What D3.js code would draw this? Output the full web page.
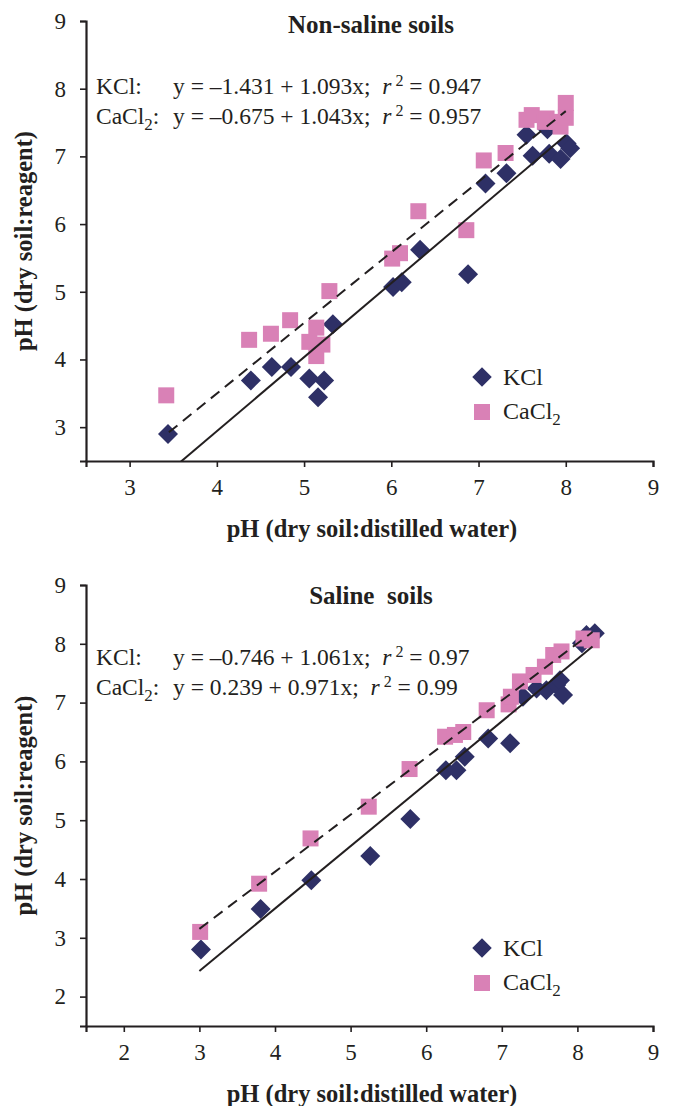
<!DOCTYPE html>
<html>
<head>
<meta charset="utf-8">
<script src="https://cdn.jsdelivr.net/npm/d3@7"></script>
<style>
  body { margin: 0; background: #fff; }
  text { font-family: "Liberation Serif", serif; fill: #231f20; }
</style>
</head>
<body>
<div id="chart"></div>
<script>
// non-saline soils, [pH water, pH reagent]
let nonSalineKCl = [
  [3.44, 2.90], [4.39, 3.69], [4.63, 3.89], [4.85, 3.89], [5.06, 3.72], [5.23, 3.69],
  [5.16, 3.44], [5.33, 4.52], [6.02, 5.07], [6.12, 5.14], [6.33, 5.62], [6.88, 5.26],
  [7.08, 6.60], [7.32, 6.75], [7.55, 7.32], [7.62, 7.01], [7.79, 7.40], [7.81, 7.04],
  [7.94, 6.96], [8.01, 7.19], [8.05, 7.12]
];
let nonSalineCaCl2 = [
  [3.42, 3.47], [4.37, 4.29], [4.62, 4.38], [4.84, 4.58], [5.06, 4.26], [5.14, 4.47],
  [5.21, 4.22], [5.14, 4.05], [5.29, 5.01], [6.01, 5.49], [6.10, 5.57], [6.31, 6.19],
  [6.86, 5.91], [7.06, 6.94], [7.31, 7.05], [7.55, 7.54], [7.61, 7.61], [7.76, 7.51],
  [7.78, 7.56], [7.90, 7.51], [7.94, 7.44], [8.00, 7.79], [8.00, 7.57]
];
// saline soils
let salineKCl = [
  [3.02, 2.80], [3.81, 3.49], [4.48, 3.98], [5.26, 4.39], [5.79, 5.02], [6.26, 5.85],
  [6.40, 5.85], [6.51, 6.08], [6.82, 6.39], [7.11, 6.31], [7.28, 7.10], [7.46, 7.24],
  [7.59, 7.21], [7.72, 7.30], [7.77, 7.38], [7.81, 7.13], [8.06, 8.01], [8.12, 8.15],
  [8.23, 8.18]
];
let salineCaCl2 = [
  [3.01, 3.10], [3.79, 3.92], [4.47, 4.69], [5.24, 5.23], [5.78, 5.87], [6.25, 6.42],
  [6.38, 6.45], [6.49, 6.50], [6.80, 6.87], [7.09, 6.97], [7.12, 7.10], [7.24, 7.36],
  [7.42, 7.47], [7.57, 7.61], [7.68, 7.81], [7.79, 7.87], [8.08, 8.09], [8.19, 8.06]
];

// regression fits: [intercept, slope], and x range of each line
let nonSalineFitKCl = [-1.431, 1.093];
let nonSalineFitCaCl2 = [-0.675, 1.043];
let nonSalineFitRange = [3.45, 8.0];
let salineFitKCl = [-0.746, 1.061];
let salineFitCaCl2 = [0.239, 0.971];
let salineFitRange = [3.0, 8.2];

let nonSalineTicks = [3, 4, 5, 6, 7, 8, 9];
let salineTicks = [2, 3, 4, 5, 6, 7, 8, 9];

let nonSalineR2 = ["0.947", "0.957"];
let salineR2 = ["0.97", "0.99"];

let colors = { kcl: '#2e3066', cacl2: '#d981b6', ink: '#231f20' };

let svg = d3.select('#chart').append('svg')
    .attr('width', 673)
    .attr('height', 1106);

let panels = [
  {
    id: 'p1', title: 'Non-saline soils', top: 21, bottom: 461,
    domain: [2.5, 9], ticks: nonSalineTicks,
    kcl: nonSalineKCl, cacl2: nonSalineCaCl2,
    fitK: nonSalineFitKCl, fitC: nonSalineFitCaCl2, fitRange: nonSalineFitRange,
    r2: nonSalineR2, titleY: 33, eqY: [94, 124], legendY: 377
  },
  {
    id: 'p2', title: 'Saline  soils', top: 585, bottom: 1026,
    domain: [1.5, 9], ticks: salineTicks,
    kcl: salineKCl, cacl2: salineCaCl2,
    fitK: salineFitKCl, fitC: salineFitCaCl2, fitRange: salineFitRange,
    r2: salineR2, titleY: 604, eqY: [665, 695], legendY: 948
  }
];

panels.forEach(drawPanel);

function fmtFit(f) {
  let a = f[0] < 0 ? '\u2013' + Math.abs(f[0]).toFixed(3) : f[0].toFixed(3);
  return 'y = ' + a + ' + ' + f[1].toFixed(3) + 'x; ';
}

function drawPanel(p) {
  let left = 86, right = 653;
  let g = svg.append('g');

  let scaleX = d3.scaleLinear().domain(p.domain).range([left, right]);
  let scaleY = d3.scaleLinear().domain(p.domain).range([p.bottom, p.top]);

  g.append('clipPath').attr('id', 'clip-' + p.id)
    .append('rect')
    .attr('x', left).attr('y', p.top)
    .attr('width', right - left).attr('height', p.bottom - p.top);

  let axisX = g.append('g')
    .attr('transform', `translate(0,${p.bottom})`)
    .call(d3.axisBottom(scaleX).tickValues(p.ticks).tickFormat(d3.format('d'))
      .tickSizeOuter(0).tickSize(6).tickPadding(12));

  let axisY = g.append('g')
    .attr('transform', `translate(${left},0)`)
    .call(d3.axisLeft(scaleY).tickValues(p.ticks).tickFormat(d3.format('d'))
      .tickSizeOuter(0).tickSize(6).tickPadding(14));

  [axisX, axisY].forEach(a => {
    a.select('.domain').attr('stroke', colors.ink).attr('stroke-width', 2.2);
    a.selectAll('.tick line').attr('stroke', colors.ink).attr('stroke-width', 1.6);
    a.selectAll('.tick text').attr('font-size', 23).attr('font-family', '"Liberation Serif", serif')
      .attr('fill', colors.ink);
  });

  // markers
  let diamond = d3.symbol().type(d3.symbolSquare).size(200);
  let square = d3.symbol().type(d3.symbolSquare).size(256);

  g.append('g').selectAll('path')
    .data(p.kcl)
    .join('path')
    .attr('d', diamond)
    .attr('transform', d => `translate(${scaleX(d[0])},${scaleY(d[1])}) rotate(45)`)
    .attr('fill', colors.kcl);

  g.append('g').selectAll('path')
    .data(p.cacl2)
    .join('path')
    .attr('d', square)
    .attr('transform', d => `translate(${scaleX(d[0])},${scaleY(d[1])})`)
    .attr('fill', colors.cacl2);

  // fitted lines
  let line = d3.line().x(d => scaleX(d[0])).y(d => scaleY(d[1]));
  let fitPts = f => p.fitRange.map(x => [x, f[0] + f[1] * x]);

  let lines = g.append('g').attr('clip-path', `url(#clip-${p.id})`);
  lines.append('path')
    .attr('d', line(fitPts(p.fitK)))
    .attr('fill', 'none').attr('stroke', colors.ink).attr('stroke-width', 2);
  lines.append('path')
    .attr('d', line(fitPts(p.fitC)))
    .attr('fill', 'none').attr('stroke', colors.ink).attr('stroke-width', 2)
    .attr('stroke-dasharray', '11,7');

  // title
  g.append('text')
    .attr('x', 371).attr('y', p.titleY)
    .attr('text-anchor', 'middle')
    .attr('font-size', 25).attr('font-weight', 'bold')
    .attr('xml:space', 'preserve')
    .text(p.title);

  // equations
  let eqs = [[p.fitK, 'KCl:', p.r2[0]], [p.fitC, 'CaCl', p.r2[1]]];
  eqs.forEach((e, i) => {
    let t = g.append('text').attr('x', 96).attr('y', p.eqY[i]).attr('font-size', 23.5);
    t.append('tspan').text(e[1]);
    if (i == 1) {
      t.append('tspan').attr('dy', 6).attr('font-size', 17).text('2');
      t.append('tspan').attr('dy', -6).text(':');
    }
    let t2 = g.append('text').attr('x', 173).attr('y', p.eqY[i]).attr('font-size', 23.5)
      .attr('xml:space', 'preserve');
    t2.append('tspan').text(fmtFit(e[0]) + ' ');
    t2.append('tspan').attr('font-style', 'italic').text('r');
    t2.append('tspan').attr('dy', -8).attr('font-size', 16).text(' 2');
    t2.append('tspan').attr('dy', 8).text(' = ' + e[2]);
  });

  // legend
  g.append('path').attr('d', d3.symbol().type(d3.symbolSquare).size(190)())
    .attr('transform', `translate(482,${p.legendY}) rotate(45)`)
    .attr('fill', colors.kcl);
  g.append('text').attr('x', 503).attr('y', p.legendY + 8).attr('font-size', 24).text('KCl');
  g.append('path').attr('d', d3.symbol().type(d3.symbolSquare).size(256)())
    .attr('transform', `translate(482,${p.legendY + 35})`)
    .attr('fill', colors.cacl2);
  let lt = g.append('text').attr('x', 503).attr('y', p.legendY + 42).attr('font-size', 24);
  lt.append('tspan').text('CaCl');
  lt.append('tspan').attr('dy', 6).attr('font-size', 17).text('2');

  // axis titles
  g.append('text')
    .attr('x', 372).attr('y', p.bottom + 76)
    .attr('text-anchor', 'middle')
    .attr('font-size', 24.5).attr('font-weight', 'bold')
    .text('pH (dry soil:distilled water)');

  g.append('text')
    .attr('transform', `translate(32,${(p.top + p.bottom) / 2}) rotate(-90)`)
    .attr('text-anchor', 'middle')
    .attr('font-size', 24.5).attr('font-weight', 'bold')
    .text('pH (dry soil:reagent)');
}
</script>
</body>
</html>
